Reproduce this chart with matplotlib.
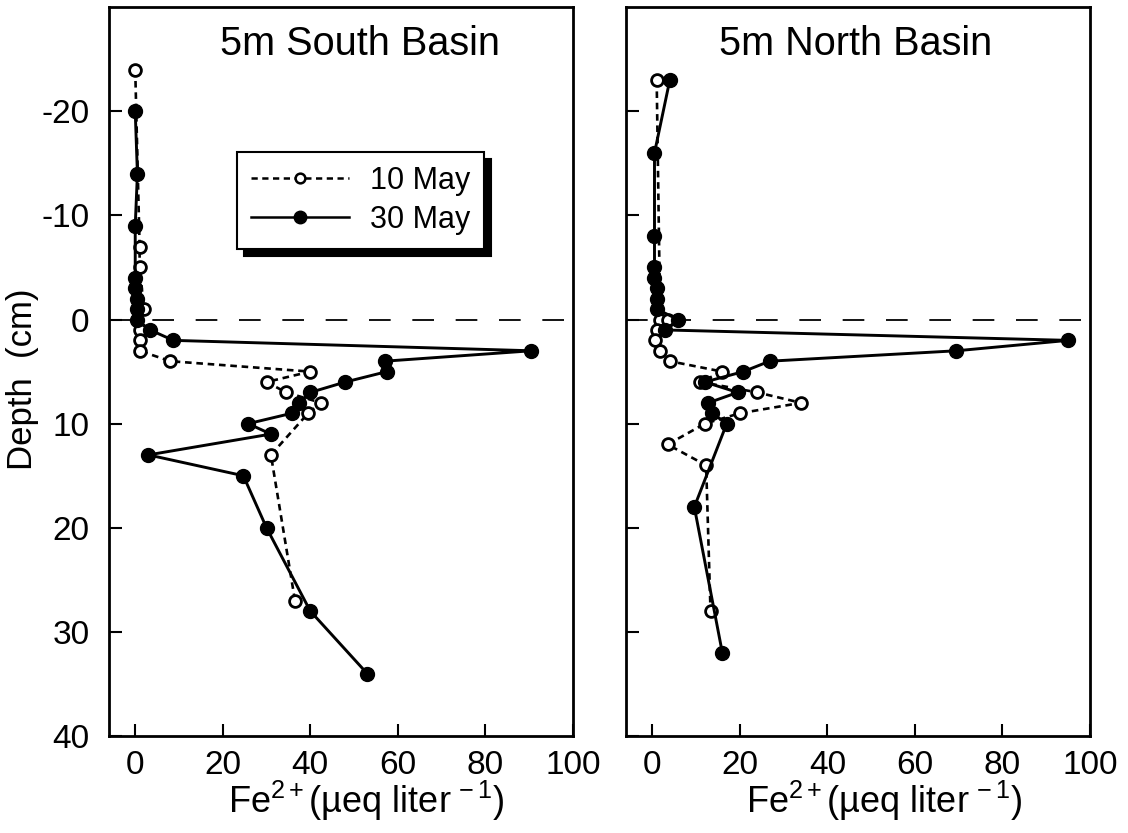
import matplotlib
matplotlib.use("Agg")
import matplotlib.pyplot as plt
from matplotlib.lines import Line2D

plt.rcParams['font.family'] = ['Liberation Sans', 'DejaVu Sans']
plt.rcParams['mathtext.fontset'] = 'custom'
plt.rcParams['mathtext.rm'] = 'Liberation Sans'
plt.rcParams['mathtext.it'] = 'Liberation Sans:italic'
plt.rcParams['axes.unicode_minus'] = False

# South basin profiles (depth in cm, Fe2+ in ueq/L)
south_may10_depth = [-24, -7, -5, -1, 1, 2, 3, 4, 5, 6, 7, 8, 9, 13, 27]
south_may10_fe = [0, 1, 1, 2, 1, 1, 1, 8, 40, 30, 34.5, 42.5, 39.5, 31, 36.5]

south_may30_depth = [-20, -14, -9, -4, -3, -2, -1, 0, 1, 2, 3, 4, 5, 6, 7, 8, 9,
                     10, 11, 13, 15, 20, 28, 34]
south_may30_fe = [0, 0.5, 0, 0, 0, 0.3, 0.3, 0.3, 3.4, 8.7, 90.5, 57, 57.5, 48,
                  40, 37.5, 35.8, 25.8, 31, 3, 24.7, 30, 40, 53]

# North basin profiles
north_may10_depth = [-23, 0, 0, 1, 2, 3, 4, 5, 6, 7, 8, 9, 10, 12, 14, 28]
north_may10_fe = [1, 1.8, 3.5, 1.1, 0.7, 1.8, 4, 16, 11, 24, 34, 20, 12, 3.5,
                  12.3, 13.3]

north_may30_depth = [-23, -16, -8, -5, -4, -3, -2, -1, 0, 1, 2, 3, 4, 5, 6, 7,
                     8, 9, 10, 18, 32]
north_may30_fe = [4, 0.5, 0.5, 0.5, 0.5, 1, 1, 1, 5.9, 3, 95, 69.5, 26.8, 20.8,
                  12, 19.5, 12.8, 13.7, 17, 9.6, 16]

titles = ["5m South Basin", "5m North Basin"]
xticks = [0, 20, 40, 60, 80, 100]
yticks = [-20, -10, 0, 10, 20, 30, 40]

fig = plt.figure(figsize=(11.28, 8.33), dpi=100)
ax1 = fig.add_axes([0.0966, 0.1164, 0.4113, 0.875])
ax2 = fig.add_axes([0.555, 0.1164, 0.4113, 0.875])

open_style = dict(color='black', linestyle=(0, (2.5, 1.8)), linewidth=1.9,
                  marker='o', markersize=8.5, markerfacecolor='white',
                  markeredgecolor='black', markeredgewidth=2)
fill_style = dict(color='black', linestyle='-', linewidth=2.1,
                  marker='o', markersize=10, markerfacecolor='black',
                  markeredgecolor='black')

data = [(south_may10_fe, south_may10_depth, south_may30_fe, south_may30_depth),
        (north_may10_fe, north_may10_depth, north_may30_fe, north_may30_depth)]

for i, ax in enumerate([ax1, ax2]):
    f10, d10, f30, d30 = data[i]
    ax.axhline(0, color='black', linewidth=1.3, linestyle=(0, (12, 12)), zorder=1)
    ax.plot(f10, d10, zorder=2, **open_style)
    ax.plot(f30, d30, zorder=3, **fill_style)

    ax.set_xlim(-6, 100)
    ax.set_ylim(40, -30)
    ax.set_xticks(xticks)
    ax.set_yticks(yticks)
    ax.tick_params(direction='in', length=9, width=1.5, labelsize=24)
    ax.tick_params(axis='y', pad=14)
    ax.tick_params(axis='x', pad=10)
    for s in ax.spines.values():
        s.set_linewidth(2)

    ax.text(0.541 if i == 0 else 0.494, 0.949, titles[i], transform=ax.transAxes,
            ha='center', va='center', fontsize=28.5)

    ax.set_xlabel("Fe$^{2+}$(\u00b5eq liter$^{\\,-1}$)", fontsize=26)
    ax.xaxis.set_label_coords(0.555, -0.058)

ax2.set_yticklabels([])

ax1.set_ylabel("Depth  (cm)", fontsize=25)
ax1.yaxis.set_label_coords(-0.15, 0.49)

# legend
h10 = Line2D([], [], color='black', linestyle=(0, (2.5, 1.8)), linewidth=1.8,
             marker='o', markersize=7, markerfacecolor='white',
             markeredgewidth=1.8)
h30 = Line2D([], [], color='black', linestyle='-', linewidth=1.8,
             marker='o', markersize=9, markerfacecolor='black')
leg = ax1.legend([h10, h30], ["10 May", "30 May"], loc='upper left',
                 bbox_to_anchor=(0.276, 0.801), borderaxespad=0,
                 fontsize=22, handlelength=3.2, handletextpad=0.7,
                 labelspacing=0.3, borderpad=0.45, numpoints=1,
                 frameon=True, fancybox=False,
                 shadow={'ox': 5, 'oy': -5, 'color': 'black', 'alpha': 1})
leg.get_frame().set_edgecolor('black')
leg.get_frame().set_linewidth(1.5)
leg.get_frame().set_alpha(1)

fig.savefig("out.png", dpi=100)
